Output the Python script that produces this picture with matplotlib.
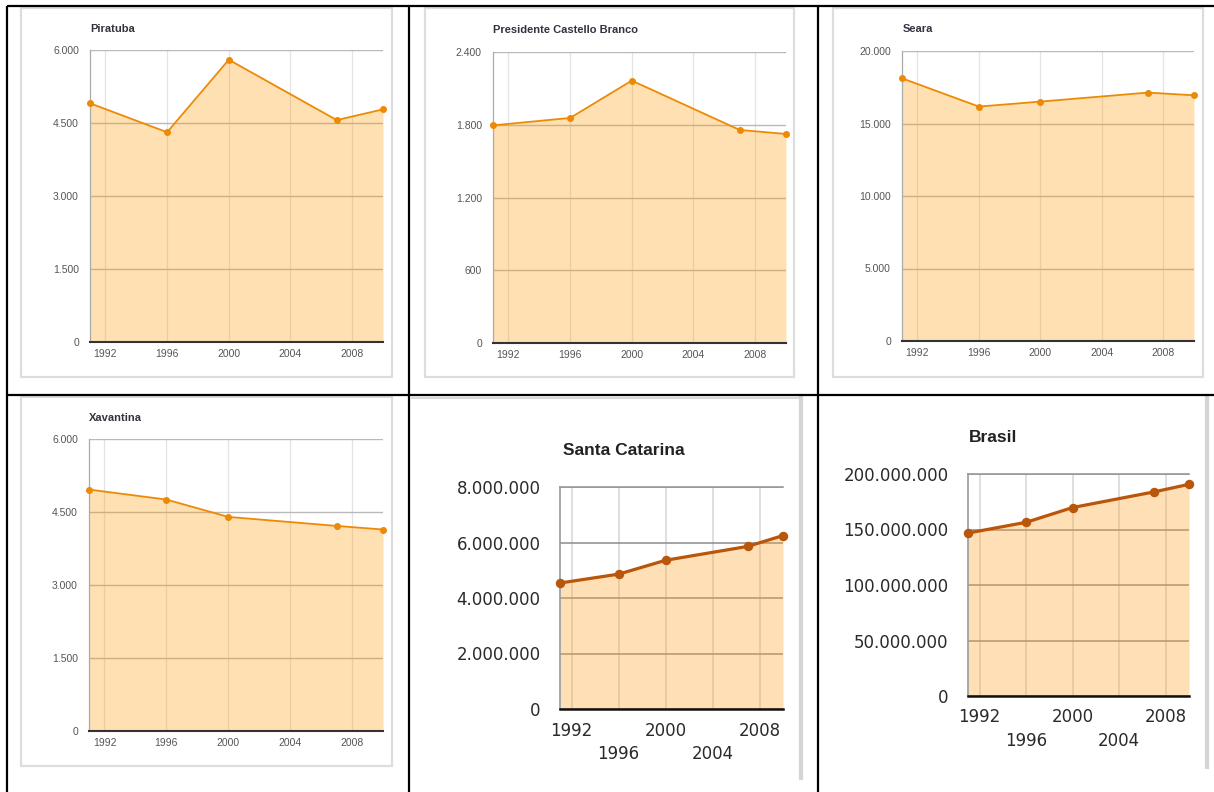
import numpy as np
import matplotlib
matplotlib.use("Agg")
import matplotlib.pyplot as plt
from matplotlib.patches import Rectangle

W, H = 1214, 792

# population data (census / count years)
years = [1991, 1996, 2000, 2007, 2010]
tick_years = [1992, 1996, 2000, 2004, 2008]

piratuba = [4905, 4310, 5800, 4560, 4780]
presidente = [1795, 1856, 2164, 1757, 1724]
seara = [18117, 16166, 16510, 17131, 16945]
xavantina = [4961, 4756, 4399, 4214, 4140]
santa_catarina = [4540000, 4860000, 5360000, 5860000, 6250000]
brasil = [146800000, 156500000, 169800000, 183900000, 190700000]

small_titles = ["Piratuba", "Presidente Castello Branco", "Seara", "Xavantina"]
small_series = [piratuba, presidente, seara, xavantina]
small_yticks = [[0, 1500, 3000, 4500, 6000],
                [0, 600, 1200, 1800, 2400],
                [0, 5000, 10000, 15000, 20000],
                [0, 1500, 3000, 4500, 6000]]
big_titles = ["Santa Catarina", "Brasil"]
big_series = [santa_catarina, brasil]
big_yticks = [[0, 2000000, 4000000, 6000000, 8000000],
              [0, 50000000, 100000000, 150000000, 200000000]]


def fmt_br(v):
    return f"{v:,.0f}".replace(",", ".")


def px_axes(fig, x0, y0, x1, y1):
    return fig.add_axes([x0 / W, 1 - y1 / H, (x1 - x0) / W, (y1 - y0) / H])


fig = plt.figure(figsize=(W / 100, H / 100), dpi=100)
fig.patch.set_facecolor("white")

# background layer: table lines and screenshot frames
bg = fig.add_axes([0, 0, 1, 1])
bg.set_xlim(0, W)
bg.set_ylim(H, 0)
bg.axis("off")

for (x0, y0, x1, y1) in [(21, 8, 392, 377), (425, 8, 794, 377),
                         (833, 8, 1203, 377), (21, 397, 392, 766)]:
    bg.add_patch(Rectangle((x0, y0), x1 - x0, y1 - y0, fill=False,
                           edgecolor="#dddddd", linewidth=1.6))
# partial frames of the two bigger screenshots
bg.plot([412, 800], [397.5, 397.5], color="#d8d8d8", linewidth=1.5)
bg.plot([801, 801], [396, 778], color="#d5d5d5", linewidth=3)
bg.plot([1207, 1207], [396, 767], color="#d5d5d5", linewidth=3)

black = dict(color="black", linewidth=1.6, solid_capstyle="butt")
bg.plot([7, W], [6, 6], **black)
bg.plot([7, W], [394.5, 394.5], **black)
bg.plot([7, 7], [6, H], **black)
bg.plot([409, 409], [6, H], **black)
bg.plot([818, 818], [6, H], **black)

# small Google-style charts
small_boxes = [(90, 50, 383, 342), (493, 52, 786, 343),
               (902, 51, 1194, 341), (89, 439, 383, 731)]
title_pos = [(90, 29), (493, 30), (903, 29), (89, 418)]
font_small = "Liberation Sans"

for box, title, vals, yt, tp in zip(small_boxes, small_titles, small_series,
                                    small_yticks, title_pos):
    ax = px_axes(fig, *box)
    ax.set_axisbelow(True)
    ax.set_xlim(1991, 2010)
    ax.set_ylim(0, yt[-1])
    ax.set_yticks(yt)
    ax.set_yticklabels([fmt_br(v) for v in yt])
    ax.set_xticks(tick_years)
    ax.grid(axis="y", color="#b9b9b9", linewidth=1)
    ax.grid(axis="x", color="#e3e3e3", linewidth=0.9)
    ax.fill_between(years, vals, 0, color="#ff9900", alpha=0.3, linewidth=0)
    ax.plot(years, vals, color="#ec8a05", linewidth=1.3, marker="o",
            markersize=4, clip_on=False, zorder=3)
    for s in ["top", "right"]:
        ax.spines[s].set_visible(False)
    ax.spines["left"].set_color("#aaaaaa")
    ax.spines["left"].set_linewidth(0.9)
    ax.spines["bottom"].set_color("#333333")
    ax.spines["bottom"].set_linewidth(1.5)
    ax.tick_params(length=0, labelsize=7.5, labelcolor="#555555")
    ax.tick_params(axis="y", pad=8)
    ax.tick_params(axis="x", pad=5)
    for lbl in ax.get_xticklabels() + ax.get_yticklabels():
        lbl.set_fontfamily(font_small)
    fig.text(tp[0] / W, 1 - tp[1] / H, title, fontsize=8, fontweight="bold",
             color="#333340", family=font_small, va="center", ha="left")

# larger, older-style charts
big_boxes = [(560, 487, 783, 709), (968, 474, 1189, 696)]
big_title_pos = [(624, 450), (993, 438)]

for box, title, vals, yt, tp in zip(big_boxes, big_titles, big_series,
                                    big_yticks, big_title_pos):
    ax = px_axes(fig, *box)
    ax.set_axisbelow(True)
    ax.set_xlim(1991, 2010)
    ax.set_ylim(0, yt[-1])
    ax.set_yticks(yt)
    ax.set_yticklabels([fmt_br(v) for v in yt])
    ax.set_xticks(tick_years)
    ax.set_xticklabels([str(y) if i % 2 == 0 else "\n" + str(y)
                        for i, y in enumerate(tick_years)])
    ax.grid(axis="y", color="#8c8c8c", linewidth=1.1)
    ax.grid(axis="x", color="#d6d6d6", linewidth=1.1)
    ax.fill_between(years, vals, 0, color="#ffa733", alpha=0.36, linewidth=0)
    ax.plot(years, vals, color="#b9560a", linewidth=2.3, marker="o",
            markersize=5.8, clip_on=False, zorder=3)
    ax.spines["right"].set_visible(False)
    for s in ["top", "left"]:
        ax.spines[s].set_color("#999999")
        ax.spines[s].set_linewidth(1.2)
    ax.spines["bottom"].set_color("#111111")
    ax.spines["bottom"].set_linewidth(1.8)
    ax.tick_params(length=0, labelsize=12, labelcolor="#2a2a2a")
    ax.tick_params(axis="y", pad=14)
    ax.tick_params(axis="x", pad=9)
    for lbl in ax.get_xticklabels():
        lbl.set_linespacing(1.4)
    fig.text(tp[0] / W, 1 - tp[1] / H, title, fontsize=12.5,
             fontweight="bold", color="#222222", family=font_small,
             va="center", ha="center")

fig.savefig("out.png", dpi=100)
